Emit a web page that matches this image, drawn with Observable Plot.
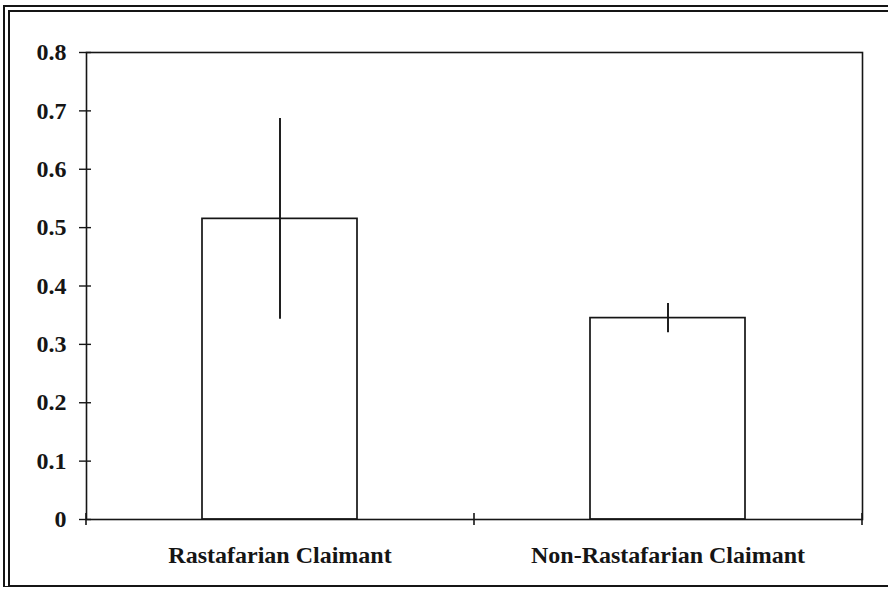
<!DOCTYPE html>
<html><head><meta charset="utf-8">
<script src="https://cdn.jsdelivr.net/npm/d3@7"></script>
<script src="https://cdn.jsdelivr.net/npm/@observablehq/plot@0.6"></script>
<style>
body{margin:0;background:#fff;}
#wrap{position:relative;width:888px;height:589px;overflow:hidden;background:#fff;}
#chart{position:absolute;left:0;top:0;}
#border{position:absolute;left:3px;top:5px;width:920px;height:573px;border-left:7px double #151515;border-top:7px double #151515;border-bottom:2px solid #151515;pointer-events:none;}
</style></head><body>
<div id="wrap"><div id="chart"></div><div id="border"></div></div>
<script>
const categories = ["Rastafarian Claimant", "Non-Rastafarian Claimant"];
const means = [0.515, 0.345];
const errors = [0.172, 0.025];
const yTicks = [0, 0.1, 0.2, 0.3, 0.4, 0.5, 0.6, 0.7, 0.8];
const yTickLabels = ["0", "0.1", "0.2", "0.3", "0.4", "0.5", "0.6", "0.7", "0.8"];

const W = 888, H = 589, mL = 86, mR = 26, mT = 52, mB = 70;
const step = (W - mL - mR) / categories.length;
const ink = "#151515";
const data = categories.map((c, i) => ({cat: c, mean: means[i], err: errors[i]}));

const chart = Plot.plot({
  width: W, height: H,
  marginLeft: mL, marginRight: mR, marginTop: mT, marginBottom: mB,
  style: {fontFamily: "'Liberation Serif','Times New Roman',serif", fontSize: "24px", fontWeight: "bold", color: ink, background: "transparent"},
  x: {domain: categories, paddingInner: 0.6, paddingOuter: 0.3, label: null},
  y: {domain: [0, 0.8], label: null},
  marks: [
    Plot.barY(data, {x: "cat", y: "mean", fill: "white", stroke: ink, strokeWidth: 1.7}),
    Plot.ruleX(data, {x: "cat", y1: d => d.mean - d.err, y2: d => d.mean + d.err, stroke: ink, strokeWidth: 1.9}),
    Plot.frame({stroke: ink, strokeWidth: 1.6}),
    Plot.ruleX(categories, {x: d => d, y1: 0, y2: 0, dx: -step / 2, insetTop: -6, insetBottom: -6, stroke: ink, strokeWidth: 1.6}),
    Plot.ruleX([categories[categories.length - 1]], {x: d => d, y1: 0, y2: 0, dx: step / 2, insetTop: -6, insetBottom: -6, stroke: ink, strokeWidth: 1.6}),
    Plot.axisY(yTicks, {tickSize: 12, dx: 5, tickFormat: () => "", stroke: ink, strokeWidth: 1.4, label: null}),
    Plot.axisY(yTicks, {tickSize: 0, tickPadding: 20, tickFormat: d => yTickLabels[yTicks.indexOf(d)], fill: ink, label: null}),
    Plot.axisX({tickSize: 0, tickPadding: 26, fill: ink, label: null})
  ]
});
document.getElementById("chart").appendChild(chart);
</script>
</body></html>
